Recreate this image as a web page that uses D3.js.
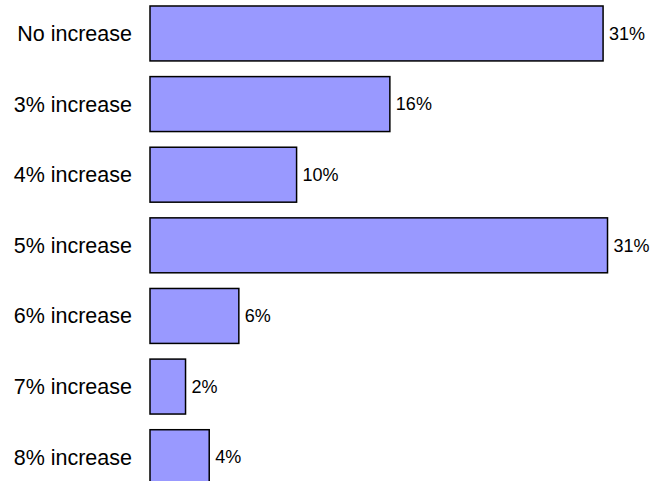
<!DOCTYPE html>
<html>
<head>
<meta charset="utf-8">
<script src="https://cdn.jsdelivr.net/npm/d3@7"></script>
<style>
  body { margin: 0; background: #fff; }
  svg { display: block; font-family: "Liberation Sans", Arial, sans-serif; }
</style>
</head>
<body>
<div id="chart"></div>
<script>
// data
const categories = ['No increase', '3% increase', '4% increase', '5% increase', '6% increase', '7% increase', '8% increase'];
const values = [30.6, 16.2, 9.9, 30.9, 6.0, 2.4, 4.0];
const valueLabels = ['31%', '16%', '10%', '31%', '6%', '2%', '4%'];

const width = 650, height = 481;

const svg = d3.select('#chart').append('svg')
  .attr('width', width)
  .attr('height', height);

const x = d3.scaleLinear().domain([0, 31]).range([150, 609]);
const y = d3.scaleBand().domain(categories).range([-1.85, 492.5])
  .paddingInner(0.222).paddingOuter(0.111);

const rows = svg.selectAll('g.row')
  .data(categories.map((c, i) => ({ cat: c, v: values[i], lab: valueLabels[i] })))
  .enter().append('g').attr('class', 'row');

/* ----------bars------------*/
rows.append('rect')
  .attr('x', x(0))
  .attr('y', d => y(d.cat))
  .attr('width', d => x(d.v) - x(0))
  .attr('height', y.bandwidth())
  .attr('fill', '#9999ff')
  .attr('stroke', '#000')
  .attr('stroke-width', 1.5);

/* ----------category labels------------*/
rows.append('text')
  .attr('x', 132)
  .attr('y', d => y(d.cat) + y.bandwidth() / 2)
  .attr('dy', '0.35em')
  .attr('text-anchor', 'end')
  .attr('font-size', 21.5)
  .attr('fill', '#000')
  .text(d => d.cat);

/* ----------value labels------------*/
rows.append('text')
  .attr('x', d => x(d.v) + 6)
  .attr('y', d => y(d.cat) + y.bandwidth() / 2)
  .attr('dy', '0.35em')
  .attr('font-size', 18)
  .attr('fill', '#000')
  .text(d => d.lab);
</script>
</body>
</html>
